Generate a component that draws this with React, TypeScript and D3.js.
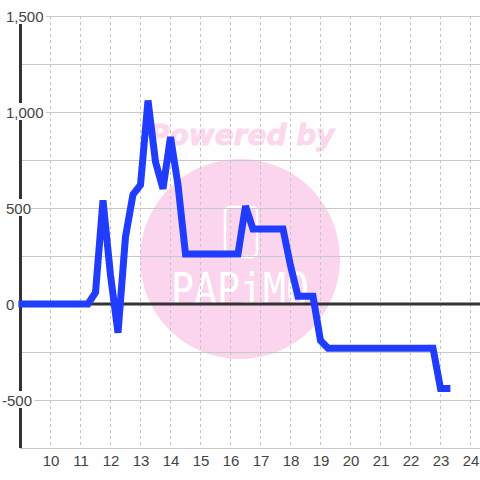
import React from "react";
import * as d3 from "d3";

const hours = [8.93, 11.25, 11.5, 11.75, 12, 12.25, 12.5, 12.75, 13, 13.25, 13.5, 13.75, 14, 14.25, 14.5, 16.25, 16.5, 16.75, 17.75, 18, 18.25, 18.75, 19, 19.25, 22.75, 23, 23.33];
const values = [0, 0, 60, 540, 150, -150, 350, 570, 620, 1060, 740, 600, 870, 620, 260, 260, 510, 390, 390, 200, 40, 40, -190, -230, -230, -440, -440];
const xTicks = [10, 11, 12, 13, 14, 15, 16, 17, 18, 19, 20, 21, 22, 23, 24];
const yGrid = [-750, -500, -250, 0, 250, 500, 750, 1000, 1250, 1500];
const yLabels = [1500, 1000, 500, 0, -500];

const x = d3.scaleLinear().domain([10, 24]).range([50.5, 470.5]);
const y = d3.scaleLinear().domain([1500, -750]).range([16, 448]);
const line = d3.line<number>().x((_, i) => x(hours[i])).y((d) => y(d)).curve(d3.curveLinear);
const font = "'Liberation Sans', Arial, sans-serif";

export default function App() {
  return (
    <svg width={480} height={480} style={{ position: "fixed", left: 0, top: 0, background: "#fdfefd" }}>
      <g>
        <circle cx={240} cy={259} r={100} fill="#fbd5ee" />
        <text x={149} y={145} fontFamily="'DejaVu Sans'" fontWeight="bold" fontStyle="italic" fontSize={28} stroke="#fcd8ef" strokeWidth={0.8} fill="#fcd8ef">Powered by</text>
        <rect x={225} y={207} width={32} height={50} rx={5} fill="none" stroke="#fff" strokeWidth={2.5} />
        <text x={171} y={305} fontFamily="'DejaVu Sans Mono'" fontSize={44} textLength={138} lengthAdjust="spacingAndGlyphs" fill="#fff">PAPiMO</text>
      </g>
      {yGrid.map((v) => (
        <line key={v} x1={20} x2={480} y1={y(v) + 0.5} y2={y(v) + 0.5} stroke="#c8c8c8" strokeWidth={1} />
      ))}
      {xTicks.map((t) => (
        <line key={t} x1={x(t)} x2={x(t)} y1={16} y2={448} stroke="#c4c4c4" strokeWidth={1} strokeDasharray="3 3" />
      ))}
      <line x1={20} x2={480} y1={y(0)} y2={y(0)} stroke="#333" strokeWidth={3} />
      <line x1={20.5} x2={20.5} y1={24} y2={448} stroke="#333" strokeWidth={3} />
      {yLabels.map((v) => {
        const s = v === 0 ? "0" : d3.format(",")(v).replace("−", "-");
        const left = v < 0 ? 2 : 6;
        const w = s.length * 7.6;
        return (
          <g key={v}>
            <rect x={left - 2} y={y(v) - 9} width={w + 4} height={17} fill="#fdfefd" />
            <text x={left} y={y(v) + 5.5} fontFamily={font} fontSize={15} fill="#444">{s}</text>
          </g>
        );
      })}
      {xTicks.map((t) => (
        <text key={t} x={x(t) + 0.5} y={466} textAnchor="middle" fontFamily={font} fontSize={15} fill="#444">{t}</text>
      ))}
      <path d={line(values) ?? ""} fill="none" stroke="#1f3cff" strokeWidth={7} strokeLinejoin="miter" strokeMiterlimit={2} strokeLinecap="butt" />
    </svg>
  );
}
